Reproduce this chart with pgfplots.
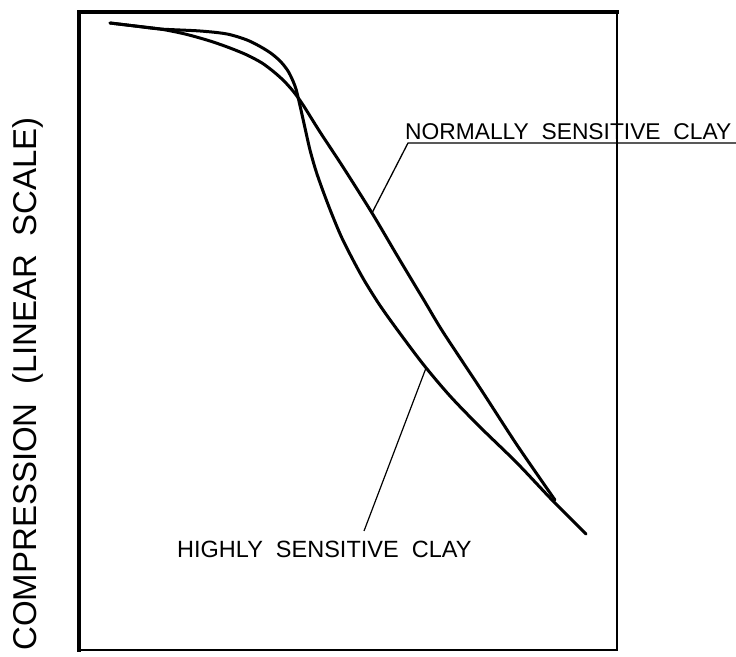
\documentclass[border=0pt]{standalone}
\usepackage{fontspec}
\setmainfont{Liberation Sans}
\newfontfamily\lab[WordSpace=2]{Liberation Sans}
\usepackage{pgfplots}
\pgfplotsset{compat=1.18}
\begin{document}
\begin{tikzpicture}
\path[use as bounding box] (-79pt,-6pt) rectangle (657pt,650pt);
\begin{axis}[at={(0pt,0pt)}, anchor=south west, scale only axis,
  width=538pt, height=638pt, xmin=0, xmax=538, ymin=0, ymax=638,
  xtick=\empty, ytick=\empty, axis line style={draw=none}, clip=false]
% frame
\draw[line width=3.5pt, line cap=rect] (axis cs:0,0) -- (axis cs:0,638) -- (axis cs:538,638);
\draw[line width=2pt] (axis cs:538,638) -- (axis cs:538,0) -- (axis cs:0,0);
% normally sensitive clay
\addplot[black, line width=3pt, line cap=round, smooth, tension=0.5] coordinates {
(31,627)(56,624)(81,621)(106,616)(131,609)(151,602)(168,595)(183,587)(195,578)(205,569)(214,559)(220,551)(226,542)(241,518)(264,483)(293,437)(319,393)(346,348)(364,318)(401,262)(438,205)(476,150)};
% highly sensitive clay
\addplot[black, line width=3pt, line cap=round, smooth, tension=0.5] coordinates {
(31,627)(56,624)(81,621)(121,619)(148,616)(168,610)(182,603)(193,596)(202,588)(209,579)(214,569)(217,561)(219,553)(222,540)(226,522)(231,500)(237,479)(244,459)(252,438)(262,414)(273,392)(285,370)(300,346)(317,322)(344,286)(371,254)(401,223)(438,187)(474,149)(507,116)};
% leaders
\addplot[black, line width=1.3pt] coordinates {(293,437)(329,507)(657,507)};
\addplot[black, line width=1.2pt] coordinates {(347,282)(285,119)};
% labels
\node[anchor=base west, inner sep=0] at (axis cs:326,510) {\lab\fontsize{22.8}{26}\selectfont NORMALLY SENSITIVE CLAY};
\node[anchor=base west, inner sep=0] at (axis cs:98,92) {\lab\fontsize{23.5}{26}\selectfont HIGHLY SENSITIVE CLAY};
\node[rotate=90, anchor=base, inner sep=0] at (axis cs:-42,266) {\lab\fontsize{33}{38}\selectfont COMPRESSION (LINEAR SCALE)};
\end{axis}
\end{tikzpicture}
\end{document}
